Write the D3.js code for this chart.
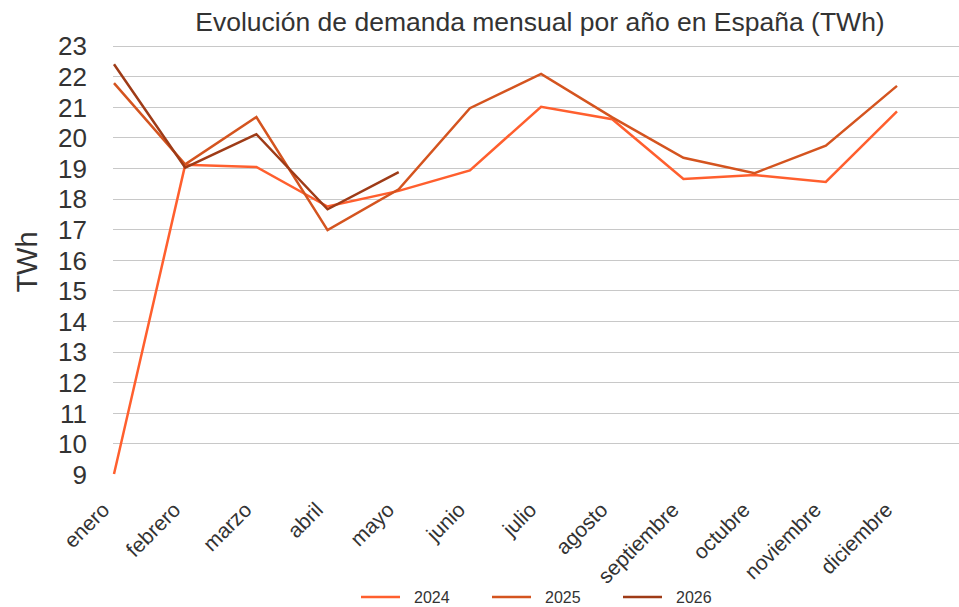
<!DOCTYPE html>
<html>
<head>
<meta charset="utf-8">
<script src="https://cdn.jsdelivr.net/npm/d3@7"></script>
<style>
  body { margin: 0; background: #fff; }
  text { font-family: "Liberation Sans", Arial, sans-serif; fill: #333; }
</style>
</head>
<body>
<div id="chart"></div>
<script>
var months = ['enero', 'febrero', 'marzo', 'abril', 'mayo', 'junio', 'julio',
    'agosto', 'septiembre', 'octubre', 'noviembre', 'diciembre'];

var years = ['2024', '2025', '2026'];

var values2024 = [9.0, 19.1, 19.03, 17.74, 18.25, 18.92, 21.0, 20.59, 18.64, 18.77, 18.54, 20.85];
var values2025 = [21.77, 19.12, 20.66, 16.97, 18.3, 20.95, 22.07, 20.65, 19.33, 18.83, 19.73, 21.68];
var values2026 = [22.39, 19.01, 20.1, 17.65, 18.86];

var yTicks = [9, 10, 11, 12, 13, 14, 15, 16, 17, 18, 19, 20, 21, 22, 23];

var colors = ['#ff5f2e', '#d4541f', '#9e3b17'];

var width = 959, height = 607;

var svg = d3.select('#chart').append('svg')
    .attr('width', width)
    .attr('height', height);

var x = d3.scalePoint()
    .domain(months)
    .range([114, 897]);

var y = d3.scaleLinear()
    .domain([9, 23])
    .range([474, 45.5]);

// gridlines (no line at the bottom value)
svg.append('g')
    .selectAll('line')
    .data(yTicks.filter(function (d) { return d > 9; }))
    .enter().append('line')
    .attr('x1', 113)
    .attr('x2', width)
    .attr('y1', function (d) { return Math.round(y(d)) + 0.5; })
    .attr('y2', function (d) { return Math.round(y(d)) + 0.5; })
    .attr('stroke', '#c8c8c8')
    .attr('stroke-width', 1.2);

// y axis labels
var yAxis = d3.axisLeft(y).tickValues(yTicks).tickSize(0).tickPadding(0);
var yg = svg.append('g')
    .attr('transform', 'translate(87,0)')
    .call(yAxis);
yg.select('.domain').remove();
yg.selectAll('text')
    .style('font-size', '26px')
    .style('fill', '#333')
    .attr('dy', '0.36em');

// x axis labels
var xAxis = d3.axisBottom(x).tickSize(0).tickPadding(0);
var xg = svg.append('g')
    .attr('transform', 'translate(0,502)')
    .call(xAxis);
xg.select('.domain').remove();
xg.selectAll('text')
    .style('font-size', '21px')
    .style('fill', '#333')
    .attr('text-anchor', 'end')
    .attr('dy', '0.35em')
    .attr('y', 0)
    .attr('transform', 'translate(-9,4) rotate(-45)');

// axis title
svg.append('text')
    .attr('transform', 'translate(37,262) rotate(-90)')
    .attr('text-anchor', 'middle')
    .style('font-size', '29px')
    .style('fill', '#333')
    .text('TWh');

// title
svg.append('text')
    .attr('x', 540)
    .attr('y', 31)
    .attr('text-anchor', 'middle')
    .style('font-size', '26.5px')
    .style('fill', '#333')
    .text('Evolución de demanda mensual por año en España (TWh)');

var line = d3.line()
    .x(function (d, i) { return x(months[i]); })
    .y(function (d) { return y(d); });

var series = [values2024, values2025, values2026];

svg.append('g')
    .selectAll('path')
    .data(series)
    .enter().append('path')
    .attr('d', line)
    .attr('fill', 'none')
    .attr('stroke', function (d, i) { return colors[i]; })
    .attr('stroke-width', 2.5)
    .attr('stroke-linejoin', 'miter');

// legend
var legend = svg.append('g')
    .selectAll('g')
    .data(years)
    .enter().append('g')
    .attr('transform', function (d, i) { return 'translate(' + (361 + i * 131) + ',597)'; });

legend.append('line')
    .attr('x1', 0)
    .attr('x2', 39)
    .attr('y1', 0)
    .attr('y2', 0)
    .attr('stroke', function (d, i) { return colors[i]; })
    .attr('stroke-width', 2.5);

legend.append('text')
    .attr('x', 53)
    .attr('y', 0)
    .attr('dy', '0.36em')
    .style('font-size', '16px')
    .style('fill', '#333')
    .text(function (d) { return d; });
</script>
</body>
</html>
